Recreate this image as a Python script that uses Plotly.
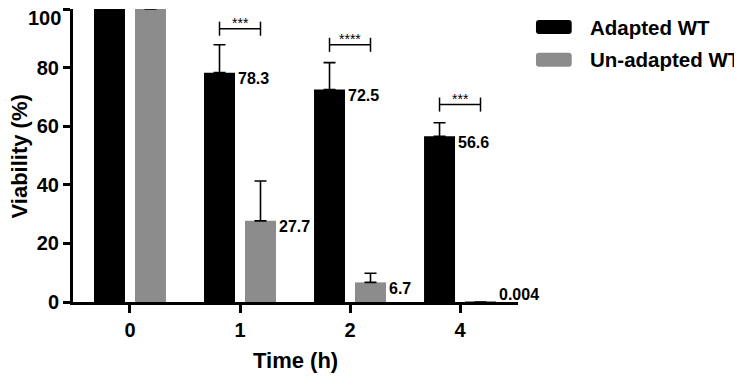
import plotly.graph_objects as go

# ---- data ----
time_labels = ["0", "1", "2", "4"]
adapted = [100, 78.3, 72.5, 56.6]
adapted_sd = [None, 9.5, 9.2, 4.6]
unadapted = [100, 27.7, 6.7, 0.004]
unadapted_sd = [None, 13.6, 3.1, None]
adapted_text = ["", "78.3", "72.5", "56.6"]
unadapted_text = ["", "27.7", "6.7", "0.004"]
sig_index = [1, 2, 3]
sig_labels = ["***", "****", "***"]
sig_y = [93.3, 87.8, 67.4]
series_names = ["Adapted WT", "Un-adapted WT"]
series_colors = ["#000000", "#8c8c8c"]
y_ticks = [0, 20, 40, 60, 80, 100]

FONT = "Liberation Sans, Arial, sans-serif"
x = list(range(len(time_labels)))

BARGAP = 0.255
BARGROUPGAP = 0.244
slot = (1 - BARGAP) / 2
offs = slot / 2
bw = slot * (1 - BARGROUPGAP)

fig = go.Figure()
for vals, sd, col, name in [(adapted, adapted_sd, series_colors[0], series_names[0]),
                            (unadapted, unadapted_sd, series_colors[1], series_names[1])]:
    fig.add_trace(go.Bar(
        x=x, y=vals, name=name, marker=dict(color=col, line=dict(width=0)),
        error_y=dict(type="data", array=sd, arrayminus=[0] * len(sd), symmetric=False,
                     color="black", thickness=1.6, width=6),
        showlegend=False, cliponaxis=False,
    ))

annotations = []
# value labels
for i in x:
    for vals, texts, sgn in [(adapted, adapted_text, -1), (unadapted, unadapted_text, 1)]:
        if texts[i]:
            annotations.append(dict(
                x=i + sgn * offs + bw / 2, y=vals[i], xref="x", yref="y",
                text=texts[i], showarrow=False, xanchor="left", yanchor="middle",
                xshift=1, yshift=-6 if vals[i] > 3 else 7,
                font=dict(family=FONT, size=16, color="black", weight="bold")))

shapes = []
tick_h = 2.4
for gi, lab, yy in zip(sig_index, sig_labels, sig_y):
    xa = gi - offs
    xb = gi + offs
    shapes.append(dict(type="line", xref="x", yref="y", x0=xa, x1=xb, y0=yy, y1=yy,
                       line=dict(color="black", width=1.5)))
    for xx in (xa, xb):
        shapes.append(dict(type="line", xref="x", yref="y", x0=xx, x1=xx,
                           y0=yy - tick_h, y1=yy + tick_h,
                           line=dict(color="black", width=1.5)))
    annotations.append(dict(x=gi, y=yy, xref="x", yref="y", text=lab, showarrow=False,
                            xanchor="center", yanchor="bottom", yshift=-4,
                            font=dict(family=FONT, size=14, color="black")))

# manual legend (rounded swatches)
def rounded_rect(x0, x1, y0, y1, rx=3 / 445, ry=3 / 293):
    return (f"M {x0+rx},{y0} L {x1-rx},{y0} Q {x1},{y0} {x1},{y0+ry} "
            f"L {x1},{y1-ry} Q {x1},{y1} {x1-rx},{y1} L {x0+rx},{y1} "
            f"Q {x0},{y1} {x0},{y1-ry} L {x0},{y0+ry} Q {x0},{y0} {x0+rx},{y0} Z")

leg_y = [(0.9147, 0.9625), (0.8031, 0.8509)]
leg_text_y = [0.9369, 0.826]
for (y0, y1), ty, col, name in zip(leg_y, leg_text_y, series_colors, series_names):
    shapes.append(dict(type="path", xref="paper", yref="paper",
                       path=rounded_rect(1.0404, 1.1207, y0, y1),
                       fillcolor=col, line=dict(width=0)))
    annotations.append(dict(x=1.1573, y=ty, xref="paper", yref="paper", text=name,
                            showarrow=False, xanchor="left", yanchor="middle",
                            font=dict(family=FONT, size=20.5, color="black", weight="bold")))

# top y tick label drawn as annotation so it is not clipped at the page edge
annotations.append(dict(x=-0.0231, y=0.969, xref="paper", yref="paper", text=str(y_ticks[-1]),
                        showarrow=False, xanchor="right", yanchor="middle",
                        font=dict(family=FONT, size=20, color="black", weight="bold")))

# axis titles
annotations.append(dict(x=0.5, y=-0.198, xref="paper", yref="paper", text="Time (h)",
                        showarrow=False, xanchor="center", yanchor="middle",
                        font=dict(family=FONT, size=22, color="black", weight="bold")))
annotations.append(dict(x=-0.1202, y=0.495, xref="paper", yref="paper", text="Viability (%)",
                        showarrow=False, xanchor="center", yanchor="middle", textangle=-90,
                        font=dict(family=FONT, size=22, color="black", weight="bold")))

fig.update_layout(
    width=742, height=376,
    margin=dict(l=65, r=232, t=1, b=82),
    paper_bgcolor="white", plot_bgcolor="white",
    barmode="group", bargap=BARGAP, bargroupgap=BARGROUPGAP,
    font=dict(family=FONT, color="black"),
    shapes=shapes, annotations=annotations,
)
fig.update_xaxes(
    range=[-0.518, 3.527], tickmode="array", tickvals=x, ticktext=time_labels,
    showline=True, linecolor="black", linewidth=3, ticks="outside", ticklen=8, tickwidth=3,
    tickcolor="black", showgrid=False, zeroline=False, automargin=False,
    tickfont=dict(family=FONT, size=20, color="black", weight="bold"),
)
fig.update_yaxes(
    range=[0, 100.02], tickmode="array", tickvals=y_ticks,
    ticktext=[str(t) for t in y_ticks[:-1]] + [""],
    showline=True, linecolor="black", linewidth=3, ticks="outside", ticklen=7, tickwidth=3,
    tickcolor="black", showgrid=False, zeroline=False, automargin=False,
    tickfont=dict(family=FONT, size=20, color="black", weight="bold"),
)

fig.write_html("out.html")
